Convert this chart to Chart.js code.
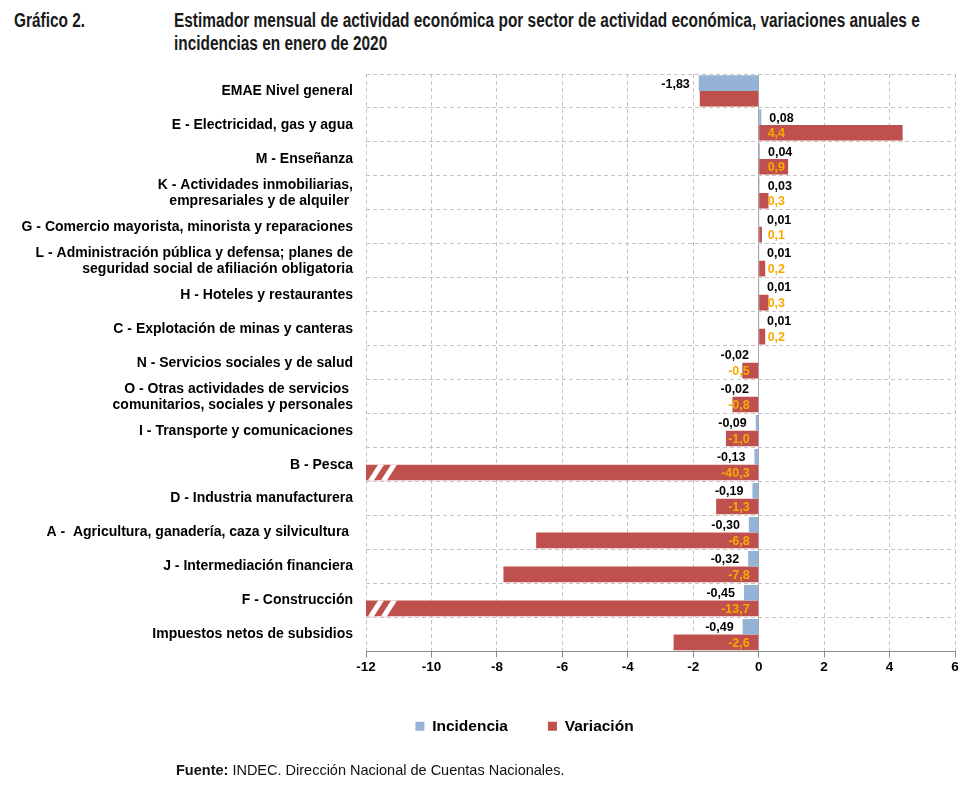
<!DOCTYPE html>
<html lang="es">
<head>
<meta charset="utf-8">
<script src="https://cdn.jsdelivr.net/npm/chart.js@4.4.0/dist/chart.umd.min.js"></script>
<style>
  body { margin: 0; background: #fff; width: 976px; height: 800px; overflow: hidden; position: relative; font-family: "Liberation Sans", Arial, sans-serif; }
  .titulo { position: absolute; top: 9px; font-family: "Liberation Sans", Arial, sans-serif; font-weight: bold; font-size: 19.5px; line-height: 23px; color: #1a1a1a; white-space: nowrap; transform: scaleX(0.79); transform-origin: left top; }
  #numero { left: 14px; }
  #texto { left: 174px; }
  #fuente { position: absolute; left: 176px; top: 762px; font-size: 14.5px; color: #111; }
  #contenedor { position: absolute; left: 0; top: 0; width: 976px; height: 800px; }
</style>
</head>
<body>
<div class="titulo" id="numero">Gráfico 2.</div>
<div class="titulo" id="texto">Estimador mensual de actividad económica por sector de actividad económica, variaciones anuales e<br>incidencias en enero de 2020</div>
<div id="contenedor"><canvas id="grafico"></canvas></div>
<div id="fuente"><b>Fuente:</b> INDEC. Dirección Nacional de Cuentas Nacionales.</div>

<script>
// datos
const sectores = [
  "EMAE Nivel general",
  "E - Electricidad, gas y agua",
  "M - Enseñanza",
  ["K - Actividades inmobiliarias,", "empresariales y de alquiler "],
  "G - Comercio mayorista, minorista y reparaciones",
  ["L - Administración pública y defensa; planes de", "seguridad social de afiliación obligatoria"],
  "H - Hoteles y restaurantes",
  "C - Explotación de minas y canteras",
  "N - Servicios sociales y de salud",
  ["O - Otras actividades de servicios ", "comunitarios, sociales y personales"],
  "I - Transporte y comunicaciones",
  "B - Pesca",
  "D - Industria manufacturera",
  "A -  Agricultura, ganadería, caza y silvicultura ",
  "J - Intermediación financiera",
  "F - Construcción",
  "Impuestos netos de subsidios",
];
const incidencia = [-1.83, 0.08, 0.04, 0.03, 0.01, 0.01, 0.01, 0.01, -0.02, -0.02, -0.09, -0.13, -0.19, -0.30, -0.32, -0.45, -0.49];
const variacion = [-1.8, 4.4, 0.9, 0.3, 0.1, 0.2, 0.3, 0.2, -0.5, -0.8, -1.0, -40.3, -1.3, -6.8, -7.8, -13.7, -2.6];
const sinEtiquetaVariacion = [0]; // el nivel general no muestra la variación
const ticksX = [-12, -10, -8, -6, -4, -2, 0, 2, 4, 6];

const AZUL = "#95B3D7";
const ROJO = "#C0504D";
const NARANJA = "#F7AA00";

function formatear(valor, decimales) {
  return valor.toFixed(decimales).replace(".", ",");
}

// etiquetas de valor: incidencia fuera del extremo, variación junto al cero
const etiquetas = {
  id: "etiquetas",
  afterDatasetsDraw(chart) {
    const ctx = chart.ctx;
    const x0 = chart.scales.x.getPixelForValue(0);
    ctx.save();
    ctx.font = 'bold 12.5px "Liberation Sans", Arial, sans-serif';
    ctx.textBaseline = "middle";

    ctx.fillStyle = "#000";
    chart.getDatasetMeta(0).data.forEach((barra, i) => {
      const v = incidencia[i];
      ctx.textAlign = v >= 0 ? "left" : "right";
      ctx.fillText(formatear(v, 2), barra.x + (v >= 0 ? 8 : -9), barra.y + 1);
    });

    ctx.fillStyle = NARANJA;
    chart.getDatasetMeta(1).data.forEach((barra, i) => {
      if (sinEtiquetaVariacion.includes(i)) return;
      const v = variacion[i];
      ctx.textAlign = v >= 0 ? "left" : "right";
      ctx.fillText(formatear(v, 1), x0 + (v >= 0 ? 9 : -9), barra.y + 1);
    });
    ctx.restore();
  },
};

// marcas de corte en las barras que salen de la escala
const cortes = {
  id: "cortes",
  afterDatasetsDraw(chart) {
    const ctx = chart.ctx;
    const min = chart.scales.x.min;
    const left = chart.chartArea.left;
    ctx.save();
    ctx.fillStyle = "#fff";
    chart.getDatasetMeta(1).data.forEach((barra, i) => {
      if (variacion[i] >= min) return;
      const arriba = barra.y - barra.height / 2;
      const abajo = barra.y + barra.height / 2;
      for (let k = 0; k < 2; k++) {
        const xb = left + 2 + k * 13;
        ctx.beginPath();
        ctx.moveTo(xb, abajo);
        ctx.lineTo(xb + 6, abajo);
        ctx.lineTo(xb + 16, arriba);
        ctx.lineTo(xb + 10, arriba);
        ctx.closePath();
        ctx.fill();
      }
    });
    ctx.restore();
  },
};

// la leyenda del original está corrida hacia la derecha
const moverLeyenda = {
  id: "moverLeyenda",
  afterLayout(chart) {
    chart.legend.left += 47;
    chart.legend.right += 47;
  },
};

new Chart(document.getElementById("grafico"), {
  type: "bar",
  data: {
    labels: sectores,
    datasets: [
      {
        label: "Incidencia",
        data: incidencia,
        backgroundColor: AZUL,
        borderWidth: 0,
        categoryPercentage: 0.92,
        barPercentage: 1,
      },
      {
        label: "Variación",
        data: variacion,
        backgroundColor: ROJO,
        borderWidth: 0,
        categoryPercentage: 0.92,
        barPercentage: 1,
      },
    ],
  },
  options: {
    indexAxis: "y",
    responsive: true,
    maintainAspectRatio: false,
    animation: false,
    layout: { padding: { top: 74, left: 0, right: 21, bottom: 56 } },
    scales: {
      x: {
        min: -12,
        max: 6,
        afterBuildTicks: (scale) => {
          scale.ticks = ticksX.map((v) => ({ value: v }));
        },
        afterFit: (scale) => {
          scale.height = 27;
        },
        ticks: {
          color: "#000",
          padding: 2,
          font: { family: '"Liberation Sans", Arial, sans-serif', size: 13.5, weight: "bold" },
        },
        grid: {
          color: (c) => (c.tick && c.tick.value === 0 ? "#A6A6A6" : "#C4C4C4"),
          tickColor: "#8C8C8C",
          tickLength: 6,
          tickBorderDash: [],
        },
        border: {
          display: true,
          color: "#8C8C8C",
          width: 1,
          dash: (c) => (c.tick && c.tick.value === 0 ? [] : [4, 3]),
        },
      },
      y: {
        afterFit: (scale) => {
          scale.width = 366;
        },
        ticks: {
          color: "#000",
          padding: 13,
          autoSkip: false,
          font: { family: '"Liberation Sans", Arial, sans-serif', size: 14, weight: "bold", lineHeight: 1.15 },
        },
        grid: {
          offset: true,
          color: "#C4C4C4",
          drawTicks: false,
        },
        border: { display: false, dash: [4, 3] },
      },
    },
    plugins: {
      legend: {
        position: "bottom",
        labels: {
          color: "#000",
          boxWidth: 9,
          boxHeight: 9,
          padding: 40,
          font: { family: '"Liberation Sans", Arial, sans-serif', size: 15.5, weight: "bold" },
        },
      },
      tooltip: { enabled: false },
    },
  },
  plugins: [cortes, etiquetas, moverLeyenda],
});
</script>
</body>
</html>
